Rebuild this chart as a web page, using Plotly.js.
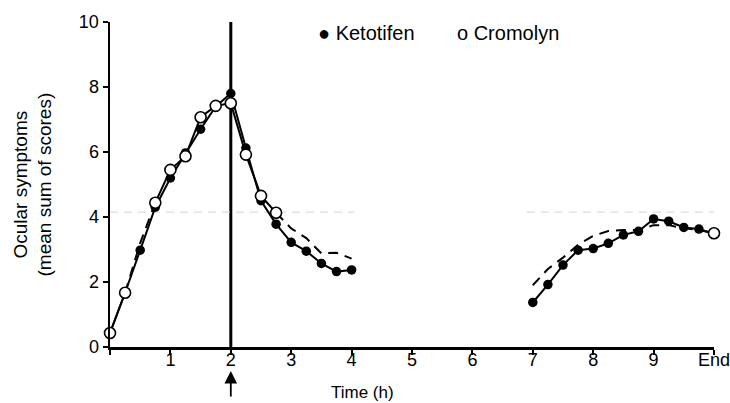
<!DOCTYPE html>
<html>
<head>
<meta charset="utf-8">
<script src="https://cdn.plot.ly/plotly-3.0.1.min.js"></script>
<style>html,body{margin:0;padding:0;background:#fff;}#chart{width:730px;height:403px;}</style>
</head>
<body>
<div id="chart"></div>
<script>
// ---- data ----
const timeEarly = [0, 0.25, 0.5, 0.75, 1.0, 1.25, 1.5, 1.75, 2.0, 2.25, 2.5, 2.75, 3.0, 3.25, 3.5, 3.75, 4.0];
const ketotifenEarly = [0.43, 1.67, 2.98, 4.30, 5.20, 5.97, 6.70, 7.40, 7.80, 6.12, 4.50, 3.78, 3.22, 2.95, 2.57, 2.32, 2.37];
const cromolynEarly  = [0.43, 1.67, 3.20, 4.44, 5.45, 5.87, 7.07, 7.42, 7.50, 5.92, 4.65, 4.13, 3.65, 3.35, 2.88, 2.90, 2.72];

const timeLate = [7.0, 7.25, 7.5, 7.75, 8.0, 8.25, 8.5, 8.75, 9.0, 9.25, 9.5, 9.75, 10.0];
const ketotifenLate = [1.37, 1.92, 2.52, 2.98, 3.03, 3.19, 3.45, 3.56, 3.94, 3.87, 3.68, 3.63, 3.48];
const cromolynLate  = [1.90, 2.40, 2.75, 3.15, 3.42, 3.57, 3.60, 3.60, 3.75, 3.75, 3.65, 3.60, 3.50];

const xTickVals = [0, 1, 2, 3, 4, 5, 6, 7, 8, 9, 10];
const xTickLabels = ['', '1', '2', '3', '4', '5', '6', '7', '8', '9', 'End'];
const yTickVals = [0, 2, 4, 6, 8, 10];
const yTickLabels = ['0', '2', '4', '6', '8', '10'];

const seriesNames = ['Ketotifen', 'Cromolyn'];
const challengeTime = 2;     // vertical line / arrow
const referenceLevel = 4.15; // grey dashed level
const refSpans = [[0, 4.05], [6.9, 10]];

// Cromolyn points plotted with markers (the rest drawn as dashed line only)
const cromolynMarkedEarly = [true, true, false, true, true, true, true, true, true, true, true, true, false, false, false, false, false];
const cromolynMarkedLate  = [false, false, false, false, false, false, false, false, false, false, false, false, true];

// ---- build traces ----
const FONT = 'Liberation Sans, Arial, Helvetica, sans-serif';

function segments(xs, ys, flags, wantSolid) {
  const X = [], Y = [];
  for (let i = 0; i < xs.length - 1; i++) {
    const solid = flags[i] && flags[i + 1];
    if (solid === wantSolid) {
      if (X.length && X[X.length - 1] !== xs[i]) { X.push(null); Y.push(null); }
      if (!X.length || X[X.length - 1] !== xs[i]) { X.push(xs[i]); Y.push(ys[i]); }
      X.push(xs[i + 1]); Y.push(ys[i + 1]);
    }
  }
  return {X, Y};
}

const crSolidE = segments(timeEarly, cromolynEarly, cromolynMarkedEarly, true);
const crDashE = segments(timeEarly, cromolynEarly, cromolynMarkedEarly, false);
const crDashL = segments(timeLate, cromolynLate, cromolynMarkedLate, false);

const lineStyle = {color: '#000', width: 2};
const dashStyle = {color: '#000', width: 2, dash: '10px,7px'};
const openMarker = {symbol: 'circle', size: 11, color: '#fff', line: {color: '#000', width: 1.6}};
const filledMarker = {symbol: 'circle', size: 9.5, color: '#000'};
const traces = [
  {x: crDashE.X, y: crDashE.Y, mode: 'lines', line: dashStyle, hoverinfo: 'skip', cliponaxis: false},
  {x: crDashL.X, y: crDashL.Y, mode: 'lines', line: dashStyle, hoverinfo: 'skip', cliponaxis: false},
  {x: crSolidE.X, y: crSolidE.Y, mode: 'lines', line: lineStyle, hoverinfo: 'skip', cliponaxis: false},
  {x: timeEarly, y: ketotifenEarly, name: seriesNames[0], mode: 'lines+markers', line: lineStyle, marker: filledMarker, cliponaxis: false},
  {x: timeLate, y: ketotifenLate, name: seriesNames[0], mode: 'lines+markers', line: lineStyle, marker: filledMarker, cliponaxis: false},
  {x: timeEarly.filter((t, i) => cromolynMarkedEarly[i]), y: cromolynEarly.filter((t, i) => cromolynMarkedEarly[i]),
   name: seriesNames[1], mode: 'markers', marker: openMarker, cliponaxis: false},
  {x: timeLate.filter((t, i) => cromolynMarkedLate[i]), y: cromolynLate.filter((t, i) => cromolynMarkedLate[i]),
   name: seriesNames[1], mode: 'markers', marker: openMarker, cliponaxis: false}
];

const shapes = [
  {type: 'line', xref: 'x', yref: 'y', x0: challengeTime, x1: challengeTime, y0: 0, y1: 10, line: {color: '#000', width: 3}, layer: 'below'}
].concat(refSpans.map(s => ({type: 'line', xref: 'x', yref: 'y', x0: s[0], x1: s[1], y0: referenceLevel, y1: referenceLevel,
  line: {color: '#d4d4d4', width: 1, dash: '8px,6px'}, layer: 'below'})));

const annotations = [
  {xref: 'paper', yref: 'paper', x: (316 - 110) / 604, y: (347 - 33) / 325, xanchor: 'left', yanchor: 'middle',
   text: '● ' + seriesNames[0], showarrow: false, font: {family: FONT, size: 20, color: '#000'}},
  {xref: 'paper', yref: 'paper', x: (455 - 110) / 604, y: (347 - 33) / 325, xanchor: 'left', yanchor: 'middle',
   text: 'o ' + seriesNames[1], showarrow: false, font: {family: FONT, size: 20, color: '#000'}},
  {xref: 'paper', yref: 'paper', x: (362 - 110) / 604, y: (347 - 392) / 325, xanchor: 'center', yanchor: 'middle',
   text: 'Time (h)', showarrow: false, font: {family: FONT, size: 17, color: '#000'}},
  {xref: 'paper', yref: 'paper', x: (32 - 110) / 604, y: 0.5, xanchor: 'center', yanchor: 'middle', textangle: -90,
   text: 'Ocular symptoms<br>(mean sum of scores)', showarrow: false, font: {family: FONT, size: 19, color: '#000'}},
  {xref: 'x', yref: 'paper', x: challengeTime, y: (347 - 371) / 325, text: '', showarrow: true, ax: 0, ay: 27,
   arrowhead: 2, arrowsize: 1.4, arrowwidth: 1.8, arrowcolor: '#000'}
];

const axisCommon = {
  showgrid: false, zeroline: false, showline: true, linecolor: '#000', linewidth: 2.5,
  ticks: 'outside', ticklen: 5, tickwidth: 2, tickcolor: '#000',
  tickfont: {family: FONT, size: 18, color: '#000'}, fixedrange: true, ticklabeloverflow: 'allow'
};

const layout = {
  width: 730, height: 403,
  margin: {l: 110, r: 16, t: 22, b: 56, pad: 0},
  paper_bgcolor: '#fff', plot_bgcolor: '#fff',
  showlegend: false,
  font: {family: FONT, color: '#000'},
  xaxis: Object.assign({}, axisCommon, {range: [0, 10], tickmode: 'array', tickvals: xTickVals, ticktext: xTickLabels, ticklabelstandoff: -10}),
  yaxis: Object.assign({}, axisCommon, {range: [0, 10], tickmode: 'array', tickvals: yTickVals, ticktext: yTickLabels}),
  shapes: shapes,
  annotations: annotations
};

Plotly.newPlot('chart', traces, layout, {displayModeBar: false, staticPlot: true});
</script>
</body>
</html>
